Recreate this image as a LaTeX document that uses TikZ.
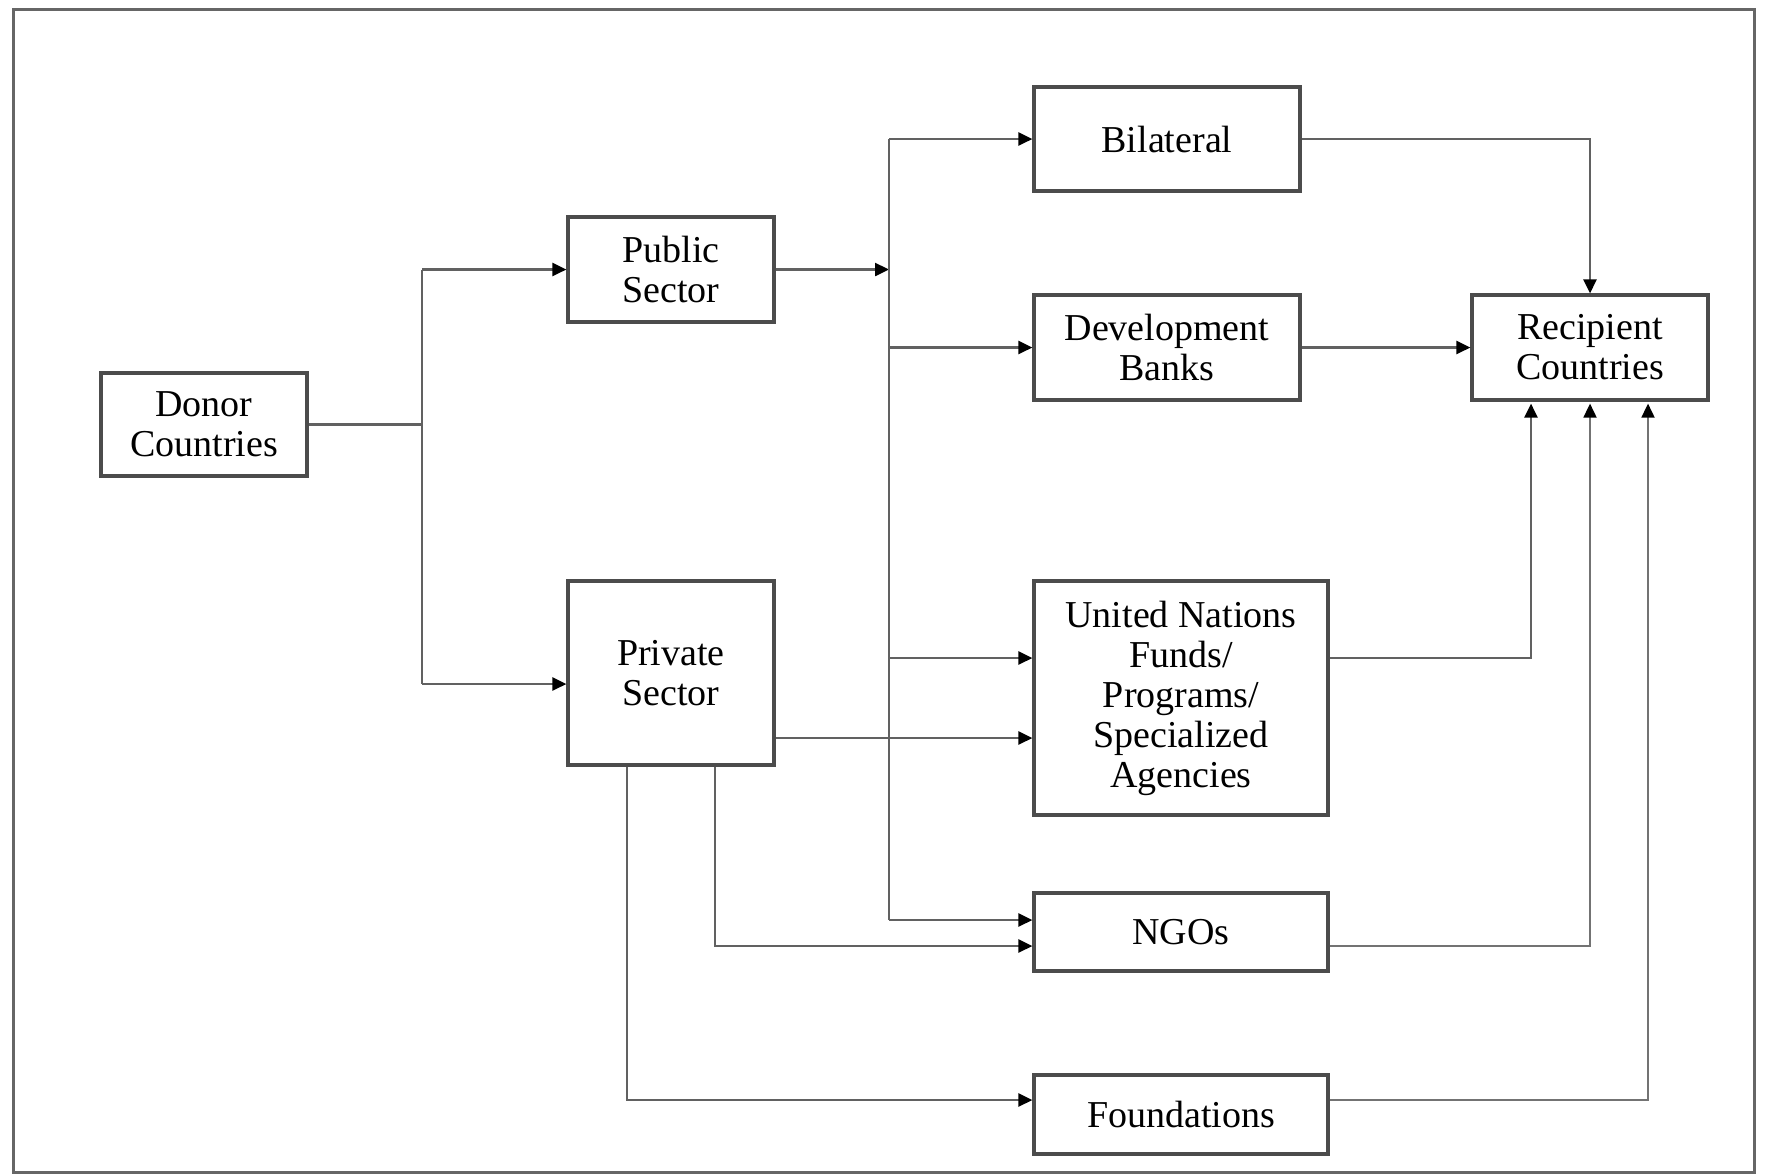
\documentclass[tikz,border=0pt]{standalone}
\usepackage{fontspec}
\setmainfont{Liberation Serif}
\usetikzlibrary{arrows.meta}
\begin{document}
\begin{tikzpicture}[>={Triangle[length=7pt,width=6.5pt,black]}, x=0.5pt, y=-0.5pt,
  box/.style={draw=black!70, line width=1.6pt, fill=white, align=center,
    font=\fontsize{19}{20}\selectfont, inner sep=2pt},
  link/.style={draw=black!62, line width=1.2pt},
  thin link/.style={draw=black!55, line width=0.9pt}]
  \useasboundingbox (0,0) rectangle (1765,1175);
  % Frame
  \draw[black!60, line width=1.5pt] (13,9) rectangle (1754,1172);
  % Boxes
  \node[box, minimum width=103pt, minimum height=51.5pt] (donor) at (204,424.5) {Donor\\Countries};
  \node[box, minimum width=103pt, minimum height=52.5pt] (public) at (671,269.5) {Public\\Sector};
  \node[box, minimum width=103pt, minimum height=92pt] (private) at (671,673) {Private\\Sector};
  \node[box, minimum width=133pt, minimum height=52pt] (bilat) at (1167,139) {Bilateral};
  \node[box, minimum width=133pt, minimum height=52.5pt] (devbank) at (1167,347.5) {Development\\Banks};
  \node[box, minimum width=118pt, minimum height=52.5pt] (recip) at (1590,347.5) {Recipient\\Countries};
  \node[box, minimum width=147pt, minimum height=117pt] (un) at (1181,698) {United Nations\\Funds/\\Programs/\\Specialized\\Agencies};
  \node[box, minimum width=147pt, minimum height=39pt] (ngo) at (1181,932) {NGOs};
  \node[box, minimum width=147pt, minimum height=39.5pt] (found) at (1181,1114.5) {Foundations};
  % Buses
  \coordinate (busA) at (422,0);
  \coordinate (busB) at (889,0);
  \coordinate (privin) at ([yshift=-5.5pt]private.west);
  \coordinate (unin) at ([yshift=20pt]un.west);
  \coordinate (ngoin) at ([yshift=6pt]ngo.west);
  % Donor to sectors
  \draw[link] (donor.east) -- (donor.east -| busA);
  \draw[link] (busA |- public.west) -- (busA |- privin);
  \draw[link, ->] (busA |- public.west) -- (public.west);
  \draw[link, ->] (busA |- privin) -- (privin);
  % Public sector to channels
  \draw[link, ->] (public.east) -- (public.east -| busB);
  \draw[link] (busB |- bilat.west) -- (busB |- ngoin);
  \draw[link, ->] (busB |- bilat.west) -- (bilat.west);
  \draw[link, ->] (busB |- devbank.west) -- (devbank.west);
  \draw[link, ->] (busB |- unin) -- (unin);
  \draw[link, ->] (busB |- ngoin) -- (ngoin);
  % Private sector to channels
  \coordinate (prout) at ([yshift=-32.5pt]private.east);
  \draw[link, ->] (prout) -- (prout -| un.west);
  \draw[link, ->] ([xshift=22pt]private.south) |- ([yshift=-7pt]ngo.west);
  \draw[link, ->] ([xshift=-22pt]private.south) |- ([yshift=7.25pt]found.west);
  % Channels to recipients
  \draw[link, ->] (bilat.east) -| (recip.north);
  \draw[link, ->] (devbank.east) -- (recip.west);
  \draw[link, ->] ([yshift=20pt]un.east) -| ([xshift=-29.5pt, yshift=-1pt]recip.south);
  \draw[thin link, ->] ([yshift=-7pt]ngo.east) -| ([yshift=-1pt]recip.south);
  \draw[thin link, ->] ([yshift=7.25pt]found.east) -| ([xshift=29pt, yshift=-1pt]recip.south);
\end{tikzpicture}
\end{document}
